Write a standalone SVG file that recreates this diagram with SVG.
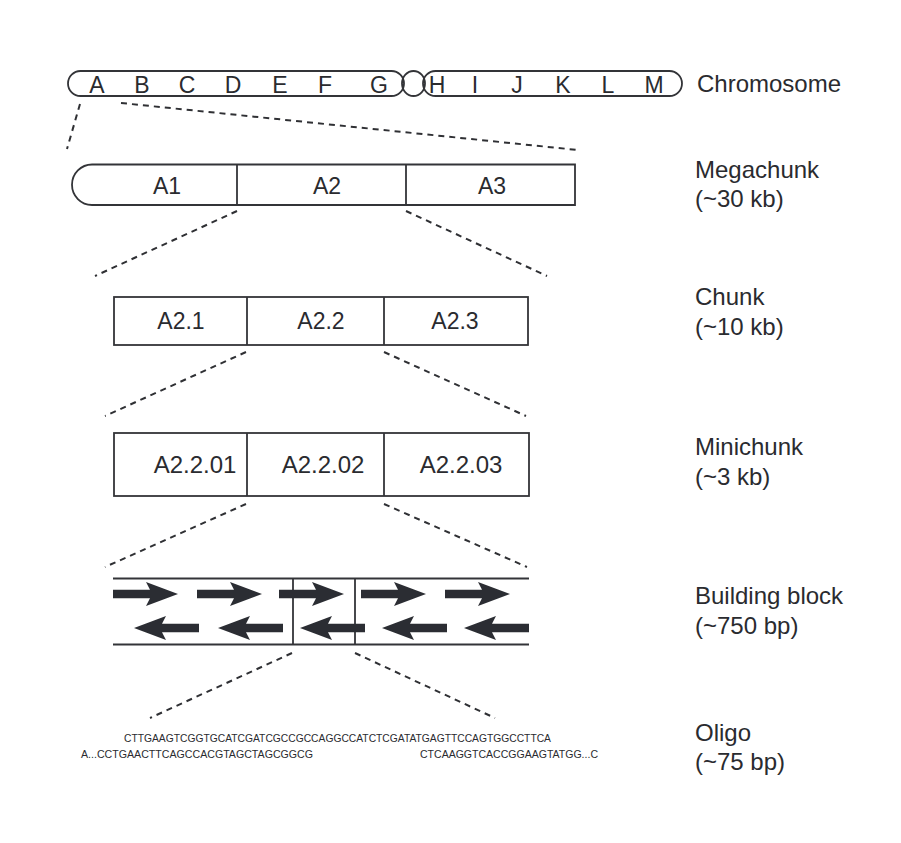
<svg xmlns="http://www.w3.org/2000/svg" width="901" height="843" viewBox="0 0 901 843">
<style>
.bg{fill:#ffffff}
.box{fill:none;stroke:#333438;stroke-width:1.8}
.dash{fill:none;stroke:#2f3034;stroke-width:2;stroke-dasharray:6 5}
.t{font-family:"Liberation Sans",Arial,Helvetica,sans-serif;font-size:23px;fill:#2a2b2f}
.c{text-anchor:middle}
.lab{font-family:"Liberation Sans",Arial,Helvetica,sans-serif;font-size:24px;fill:#2a2b2f}
.seq{font-family:"Liberation Sans",Arial,Helvetica,sans-serif;font-size:10.5px;fill:#2a2b2f}
.arr{fill:#2b2d33}
</style>
<defs>
<path id="ar" d="M0,-4.2 H37 L33,-12 L65,0 L33,12 L37,4.2 H0 Z"/>
</defs>
<rect class="bg" x="0" y="0" width="901" height="843"/>

<g id="chromosome">
<rect class="box" x="68" y="71" width="336" height="25" rx="12.5"/>
<ellipse class="box" cx="413.5" cy="83.5" rx="11.5" ry="12.5"/>
<rect class="box" x="423" y="71" width="259" height="25" rx="12.5"/>
<text class="t c" x="97" y="93">A</text>
<text class="t c" x="142" y="93">B</text>
<text class="t c" x="187" y="93">C</text>
<text class="t c" x="233" y="93">D</text>
<text class="t c" x="280" y="93">E</text>
<text class="t c" x="325" y="93">F</text>
<text class="t c" x="379" y="93">G</text>
<text class="t c" x="437" y="93">H</text>
<text class="t c" x="475" y="93">I</text>
<text class="t c" x="517" y="93">J</text>
<text class="t c" x="563" y="93">K</text>
<text class="t c" x="608" y="93">L</text>
<text class="t c" x="654" y="93">M</text>
</g>

<g id="megachunk">
<path class="box" d="M92,164.5 H575 V205 H92 A20 20.25 0 0 1 92,164.5 Z"/>
<line class="box" x1="237" y1="164.5" x2="237" y2="205"/>
<line class="box" x1="406" y1="164.5" x2="406" y2="205"/>
<text class="t c" x="167" y="194">A1</text>
<text class="t c" x="327" y="194">A2</text>
<text class="t c" x="492" y="194">A3</text>
</g>

<g id="chunk">
<rect class="box" x="114" y="297" width="414" height="48"/>
<line class="box" x1="247" y1="297" x2="247" y2="345"/>
<line class="box" x1="384" y1="297" x2="384" y2="345"/>
<text class="t c" x="181" y="329">A2.1</text>
<text class="t c" x="321" y="329">A2.2</text>
<text class="t c" x="455" y="329">A2.3</text>
</g>

<g id="minichunk">
<rect class="box" x="114" y="433" width="415" height="63"/>
<line class="box" x1="247" y1="433" x2="247" y2="496"/>
<line class="box" x1="384" y1="433" x2="384" y2="496"/>
<text class="t c" x="195" y="473" style="font-size:24px">A2.2.01</text>
<text class="t c" x="323" y="473" style="font-size:24px">A2.2.02</text>
<text class="t c" x="461" y="473" style="font-size:24px">A2.2.03</text>
</g>

<g id="building-block">
<line class="box" x1="113" y1="578.5" x2="529" y2="578.5"/>
<line class="box" x1="113" y1="644.5" x2="529" y2="644.5"/>
<line class="box" x1="293" y1="578.5" x2="293" y2="644.5"/>
<line class="box" x1="355" y1="578.5" x2="355" y2="644.5"/>
<use class="arr" href="#ar" transform="translate(113,594)"/>
<use class="arr" href="#ar" transform="translate(197,594)"/>
<use class="arr" href="#ar" transform="translate(279,594)"/>
<use class="arr" href="#ar" transform="translate(361,594)"/>
<use class="arr" href="#ar" transform="translate(445,594)"/>
<use class="arr" href="#ar" transform="translate(199,628) scale(-1,1)"/>
<use class="arr" href="#ar" transform="translate(283,628) scale(-1,1)"/>
<use class="arr" href="#ar" transform="translate(365,628) scale(-1,1)"/>
<use class="arr" href="#ar" transform="translate(447,628) scale(-1,1)"/>
<use class="arr" href="#ar" transform="translate(529,628) scale(-1,1)"/>
</g>

<g id="oligo">
<text class="seq" x="124" y="742" textLength="427" lengthAdjust="spacingAndGlyphs">CTTGAAGTCGGTGCATCGATCGCCGCCAGGCCATCTCGATATGAGTTCCAGTGGCCTTCA</text>
<text class="seq" x="81" y="758" textLength="232" lengthAdjust="spacingAndGlyphs">A...CCTGAACTTCAGCCACGTAGCTAGCGGCG</text>
<text class="seq" x="420" y="758" textLength="178" lengthAdjust="spacingAndGlyphs">CTCAAGGTCACCGGAAGTATGG...C</text>
</g>

<g id="connectors">
<line class="dash" x1="80" y1="104" x2="67" y2="149"/>
<line class="dash" x1="121" y1="103" x2="578" y2="150"/>
<line class="dash" x1="237" y1="211" x2="95" y2="276"/>
<line class="dash" x1="406" y1="211" x2="547" y2="276"/>
<line class="dash" x1="246" y1="352" x2="105" y2="416"/>
<line class="dash" x1="384" y1="352" x2="526" y2="416"/>
<line class="dash" x1="246" y1="504" x2="105" y2="567"/>
<line class="dash" x1="384" y1="504" x2="527" y2="567"/>
<line class="dash" x1="292" y1="653" x2="150" y2="718"/>
<line class="dash" x1="355" y1="653" x2="495" y2="718"/>
</g>

<g id="labels">
<text class="lab" x="697" y="92">Chromosome</text>
<text class="lab" x="695" y="178">Megachunk</text>
<text class="lab" x="695" y="207">(~30 kb)</text>
<text class="lab" x="695" y="305">Chunk</text>
<text class="lab" x="695" y="335">(~10 kb)</text>
<text class="lab" x="695" y="455">Minichunk</text>
<text class="lab" x="695" y="485">(~3 kb)</text>
<text class="lab" x="695" y="604">Building block</text>
<text class="lab" x="695" y="634">(~750 bp)</text>
<text class="lab" x="695" y="741">Oligo</text>
<text class="lab" x="695" y="770">(~75 bp)</text>
</g>
</svg>
